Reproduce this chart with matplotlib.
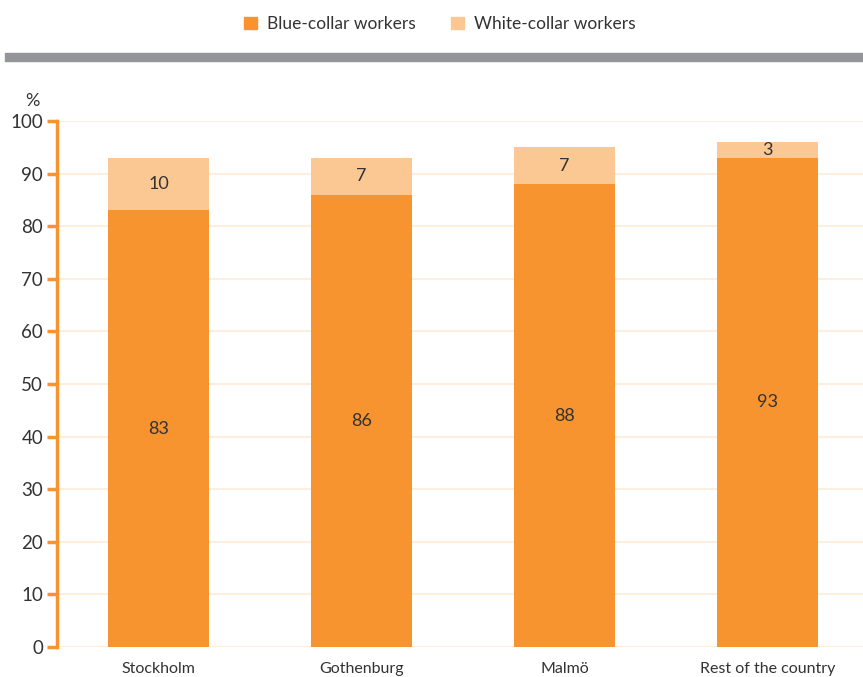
import numpy as np
import matplotlib.pyplot as plt
from matplotlib.patches import Patch, Rectangle

plt.rcParams['font.family'] = ['Lato', 'DejaVu Sans']

# data
categories = ['Stockholm', 'Gothenburg', 'Malmö', 'Rest of the country']
blue_collar = [83, 86, 88, 93]
white_collar = [10, 7, 7, 3]
series_names = ['Blue-collar workers', 'White-collar workers']

c_blue = '#f7942f'
c_white = '#fbc893'
c_grid = '#fdeee0'
c_text = '#333333'

fig = plt.figure(figsize=(8.63, 6.77), dpi=100)
ax = fig.add_axes([57 / 863, 1 - 647 / 677, 1 - 57 / 863, (647 - 121) / 677])

x = np.arange(len(categories))
b = np.array(blue_collar)
w = np.array(white_collar)
ax.bar(x, b, width=0.5, color=c_blue, zorder=3)
ax.bar(x, w, width=0.5, bottom=b, color=c_white, zorder=3)

# value labels
for i in range(len(x)):
    ax.text(x[i], b[i] / 2, str(b[i]), ha='center', va='center',
            fontsize=13, color=c_text, zorder=4)
    ax.text(x[i], b[i] + w[i] / 2, str(w[i]), ha='center', va='center',
            fontsize=13, color=c_text, zorder=4)

ax.set_xlim(-0.5, 3.47)
ax.set_ylim(0, 100)
ax.set_yticks(range(0, 101, 10))
ax.set_xticks(x)
ax.set_xticklabels(categories, fontsize=11.5, color=c_text)
ax.tick_params(axis='y', labelsize=13.5, labelcolor=c_text, color=c_blue,
               length=7, width=2.5, pad=3)
ax.tick_params(axis='x', length=0, pad=11)
ax.yaxis.grid(True, color=c_grid, linewidth=1.5, zorder=0)
for s in ['top', 'right', 'bottom']:
    ax.spines[s].set_visible(False)
ax.spines['left'].set_color(c_blue)
ax.spines['left'].set_linewidth(2.5)

fig.text(32 / 863, 1 - 101 / 677, '%', fontsize=13, color=c_text,
         ha='center', va='center')

# grey rule under legend
fig.patches.append(Rectangle((5 / 863, 1 - 61 / 677), 1, 8 / 677,
                             transform=fig.transFigure, color='#939598'))

handles = [Patch(color=c_blue), Patch(color=c_white)]
fig.legend(handles, series_names, loc='center', bbox_to_anchor=(440 / 863, 1 - 24 / 677),
           ncol=2, frameon=False, fontsize=12.5, handlelength=0.75, handleheight=0.75,
           handletextpad=0.6, columnspacing=2.0, labelcolor=c_text)

fig.savefig('out.png', dpi=100)
